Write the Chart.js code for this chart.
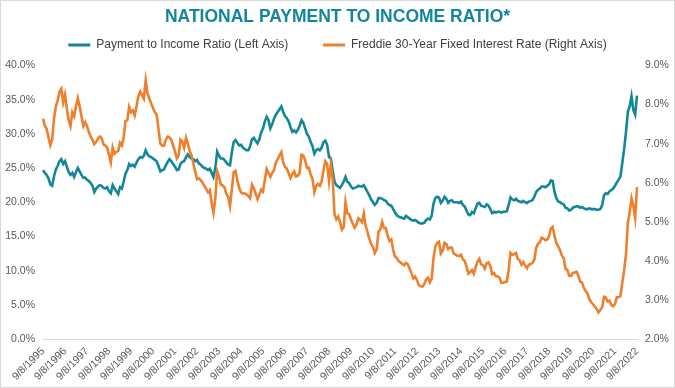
<!DOCTYPE html>
<html>
<head>
<meta charset="utf-8">
<script src="https://cdn.jsdelivr.net/npm/chart.js@4.4.0/dist/chart.umd.min.js"></script>
<style>
  html, body { margin: 0; padding: 0; background: #fff; }
  #wrap { width: 675px; height: 388px; box-sizing: border-box; border: 1px solid #d9d9d9; }
  canvas { display: block; }
</style>
</head>
<body>
<div id="wrap"><canvas id="chart" width="673" height="386"></canvas></div>
<script>
// monthly points, 9/8/1995 .. 9/8/2022
const startYear = 1995, startMonth = 9, pointCount = 325;
const months = [];
for (let i = 0; i < pointCount; i++) {
  const m = (startMonth - 1 + i) % 12 + 1;
  const y = startYear + Math.floor((startMonth - 1 + i) / 12);
  months.push(m + '/8/' + y);
}

// Payment to Income Ratio, % (left axis)
const paymentRatio = [
  24.7, 24.3, 24.0, 23.5,
  22.6, 22.4, 23.8, 24.8, 25.3, 26.0, 26.3, 25.6, 26.0, 25.2, 24.4, 24.0,
  24.3, 23.7, 24.4, 25.0, 24.5, 24.0, 23.6, 23.6, 23.3, 23.1, 22.8, 22.4,
  21.5, 22.0, 22.3, 22.5, 22.4, 22.1, 22.0, 22.2, 21.6, 21.3, 22.5, 22.0,
  21.6, 21.2, 22.2, 22.0, 23.0, 24.2, 24.7, 25.6, 25.3, 25.5, 25.2, 25.8,
  26.3, 26.6, 26.5, 26.8, 27.6, 27.0, 26.7, 26.6, 26.4, 26.2, 26.0, 25.3,
  24.5, 24.7, 24.8, 25.4, 25.9, 26.3, 26.0, 25.6, 25.2, 24.7, 24.8, 25.6,
  25.9, 26.0, 26.6, 27.0, 26.6, 26.4, 26.3, 26.0, 26.2, 25.7, 25.5, 25.2,
  25.0, 24.9, 24.7, 24.9, 24.3, 23.7, 25.0, 27.4, 26.8, 26.4, 26.4, 26.2,
  25.8, 25.5, 25.4, 27.3, 28.8, 29.1, 28.7, 28.3, 28.4, 28.0, 27.8, 27.6,
  27.6, 28.2, 29.2, 29.4, 29.0, 28.6, 29.2, 30.2, 30.8, 31.8, 32.5, 32.0,
  30.8, 31.4, 32.2, 32.8, 33.2, 33.6, 34.0, 33.2, 32.6, 32.3, 31.8, 31.0,
  30.3, 30.5, 30.2, 30.6, 31.2, 32.0, 31.6, 30.8, 30.0, 29.6, 28.8, 28.2,
  27.1, 27.6, 27.8, 27.6, 28.0, 28.8, 29.0, 28.4, 26.6, 26.4, 24.6, 23.0,
  22.5, 22.3, 22.1, 22.5, 23.0, 23.7, 23.0, 22.8, 22.3, 22.0, 22.1, 22.2,
  22.4, 22.3, 22.3, 22.5, 22.0, 21.5, 21.0, 20.4, 20.0, 19.6, 19.9, 20.6,
  20.6, 20.5, 20.3, 20.2, 19.8, 19.6, 19.5, 19.0, 18.5, 18.1, 17.9, 17.8,
  17.7, 17.6, 18.0, 17.8, 17.6, 17.4, 17.3, 17.4, 17.2, 17.0, 16.9, 16.9,
  17.0, 17.4, 17.6, 17.5, 18.0, 19.8, 20.6, 20.8, 20.7, 19.9, 20.2, 20.8,
  20.5, 19.9, 20.2, 20.3, 20.0, 20.0, 20.0, 19.9, 20.1, 19.6, 19.4, 18.8,
  18.2, 18.1, 18.6, 18.4, 19.1, 19.8, 19.9, 19.5, 19.4, 19.3, 19.7, 19.5,
  19.0, 18.4, 18.6, 18.5, 18.6, 18.6, 18.5, 18.6, 18.6, 18.7, 19.6, 20.7,
  20.4, 20.3, 20.5, 20.2, 20.1, 20.0, 20.2, 20.0, 19.9, 20.1, 20.2, 20.3,
  20.8, 21.5, 21.8, 22.0, 22.3, 22.3, 22.2, 22.4, 22.6, 23.2, 23.1, 21.5,
  20.6, 20.1, 20.0, 19.8, 19.7, 19.2, 19.1, 18.8, 18.9, 19.2, 19.3, 19.4,
  19.4, 19.2, 19.3, 19.1, 19.0, 19.0, 19.1, 19.0, 19.0, 19.0, 18.9, 18.9,
  19.0, 19.6, 21.0, 21.3, 21.2, 21.6, 21.8, 22.0, 22.4, 22.9, 23.3, 23.8,
  25.8, 27.8, 30.3, 33.2, 34.0, 35.5, 33.5, 32.8, 35.6
];

// Freddie Mac 30-year fixed rate, % (right axis)
const freddieRate = [
  7.64, 7.46, 7.38, 7.16,
  6.96, 7.10, 7.65, 7.95, 8.10, 8.32, 8.40, 8.05, 8.25, 7.90, 7.60, 7.45,
  7.80, 7.70, 7.95, 8.16, 7.95, 7.70, 7.45, 7.55, 7.45, 7.30, 7.18, 7.10,
  6.99, 7.04, 7.13, 7.18, 7.14, 6.98, 6.95, 6.90, 6.72, 6.52, 6.90, 6.74,
  6.79, 6.81, 7.02, 6.95, 7.15, 7.58, 7.60, 7.94, 7.80, 7.85, 7.72, 7.95,
  8.21, 8.33, 8.24, 8.15, 8.62, 8.29, 8.15, 8.03, 7.91, 7.80, 7.75, 7.38,
  7.00, 6.95, 6.95, 7.10, 7.18, 7.16, 7.10, 6.95, 6.80, 6.62, 6.70, 7.10,
  7.05, 6.89, 7.15, 7.00, 6.81, 6.70, 6.49, 6.29, 6.09, 6.11, 6.07, 6.00,
  5.92, 5.84, 5.75, 5.81, 5.48, 5.23, 5.60, 6.30, 6.15, 5.95, 5.93, 5.88,
  5.71, 5.64, 5.40, 5.83, 6.27, 6.30, 6.06, 5.87, 5.75, 5.72, 5.73, 5.70,
  5.66, 5.60, 5.95, 5.86, 5.72, 5.58, 5.70, 5.82, 5.77, 6.07, 6.35, 6.25,
  6.15, 6.25, 6.32, 6.51, 6.60, 6.70, 6.78, 6.52, 6.40, 6.36, 6.24, 6.12,
  6.22, 6.29, 6.16, 6.18, 6.26, 6.72, 6.70, 6.57, 6.38, 6.38, 6.21, 6.10,
  5.76, 5.92, 5.97, 5.92, 6.04, 6.32, 6.55, 6.48, 6.04, 6.46, 6.09, 5.20,
  5.06, 5.13, 5.00, 4.80, 4.86, 5.50, 5.22, 5.19, 5.06, 4.95, 4.85, 4.93,
  5.09, 5.05, 4.99, 5.21, 4.89, 4.74, 4.56, 4.43, 4.35, 4.20, 4.30, 4.75,
  4.80, 5.00, 4.84, 4.84, 4.64, 4.51, 4.55, 4.27, 4.11, 4.07, 3.99, 3.96,
  3.92, 3.89, 3.95, 3.91, 3.80, 3.68, 3.55, 3.60, 3.50, 3.38, 3.35, 3.34,
  3.41, 3.53, 3.57, 3.45, 3.54, 4.07, 4.37, 4.46, 4.49, 4.19, 4.26, 4.46,
  4.43, 4.30, 4.34, 4.34, 4.19, 4.16, 4.13, 4.12, 4.16, 4.04, 4.00, 3.86,
  3.67, 3.71, 3.77, 3.67, 3.84, 3.98, 4.05, 3.91, 3.89, 3.80, 3.94, 3.96,
  3.87, 3.66, 3.69, 3.61, 3.60, 3.57, 3.44, 3.44, 3.46, 3.47, 3.77, 4.20,
  4.15, 4.17, 4.20, 4.05, 4.01, 3.90, 3.97, 3.88, 3.81, 3.90, 3.92, 3.95,
  4.03, 4.33, 4.44, 4.47, 4.59, 4.57, 4.53, 4.55, 4.63, 4.83, 4.87, 4.64,
  4.46, 4.37, 4.27, 4.14, 4.07, 3.80, 3.77, 3.62, 3.61, 3.69, 3.70, 3.72,
  3.62, 3.47, 3.45, 3.31, 3.23, 3.16, 3.02, 2.94, 2.89, 2.83, 2.77, 2.68,
  2.74, 2.81, 3.08, 3.06, 2.96, 2.98, 2.87, 2.84, 2.90, 3.07, 3.07, 3.10,
  3.45, 3.76, 4.17, 4.98, 5.23, 5.60, 5.41, 5.10, 5.89
];

const leftTicks = { min: 0, max: 40, step: 5 };
const rightTicks = { min: 2, max: 9, step: 1 };

const TEAL = '#13869a';
const ORANGE = '#ee7f2d';
const SANS = "'Liberation Sans', Arial, sans-serif";

// legend sits a bit higher than chart.js would put it
const legendGap = {
  id: 'legendGap',
  beforeInit(chart) {
    const fit = chart.legend.fit;
    chart.legend.fit = function() {
      fit.call(this);
      this.height += 4.5;
    };
  }
};

const pct = v => v.toFixed(1) + '%';

new Chart(document.getElementById('chart'), {
  type: 'line',
  data: {
    labels: months,
    datasets: [{
      label: 'Payment to Income Ratio (Left Axis)',
      data: paymentRatio,
      yAxisID: 'y',
      borderColor: TEAL,
      backgroundColor: TEAL,
      borderWidth: 2.6,
      pointRadius: 0,
      order: 1
    }, {
      label: 'Freddie 30-Year Fixed Interest Rate (Right Axis)',
      data: freddieRate,
      yAxisID: 'y1',
      borderColor: ORANGE,
      backgroundColor: ORANGE,
      borderWidth: 2.6,
      pointRadius: 0,
      order: 0
    }]
  },
  options: {
    responsive: false,
    animation: false,
    layout: { padding: 0 },
    plugins: {
      title: {
        display: true,
        text: 'NATIONAL PAYMENT TO INCOME RATIO*',
        color: TEAL,
        font: { family: SANS, size: 17.5, weight: 'bold' },
        padding: { top: 5.5, bottom: 3.5 }
      },
      legend: {
        labels: {
          color: '#404040',
          font: { family: SANS, size: 12 },
          boxWidth: 22,
          boxHeight: 3,
          padding: 8,
          sort: (a, b) => a.datasetIndex - b.datasetIndex,
          generateLabels: chart => Chart.defaults.plugins.legend.labels.generateLabels(chart)
            .map(l => ({ ...l, lineWidth: 0, text: l.datasetIndex === 0 ? l.text + '\u00a0'.repeat(8) : l.text }))
        }
      },
      tooltip: { enabled: false }
    },
    scales: {
      x: {
        type: 'category',
        grid: { display: false, drawTicks: false },
        border: { display: true, color: '#d9d9d9', width: 1 },
        ticks: {
          autoSkip: false,
          minRotation: 45,
          maxRotation: 45,
          padding: 6,
          color: '#595959',
          font: { family: SANS, size: 10.5 },
          callback: function(v) {
            const l = this.getLabelForValue(v);
            return l.startsWith('9/') ? l : '';
          }
        },
        afterFit: s => { s.height = 48; }
      },
      y: {
        position: 'left',
        min: leftTicks.min,
        max: leftTicks.max,
        grid: { display: false, drawTicks: false },
        border: { display: false },
        ticks: { stepSize: leftTicks.step, padding: 8, color: '#595959', font: { family: SANS, size: 10.5 }, callback: pct },
        afterFit: s => { s.width = 42; }
      },
      y1: {
        position: 'right',
        min: rightTicks.min,
        max: rightTicks.max,
        grid: { display: false, drawTicks: false },
        border: { display: false },
        ticks: { stepSize: rightTicks.step, padding: 8, color: '#595959', font: { family: SANS, size: 10.5 }, callback: pct },
        afterFit: s => { s.width = 37; }
      }
    }
  },
  plugins: [legendGap]
});
</script>
</body>
</html>
